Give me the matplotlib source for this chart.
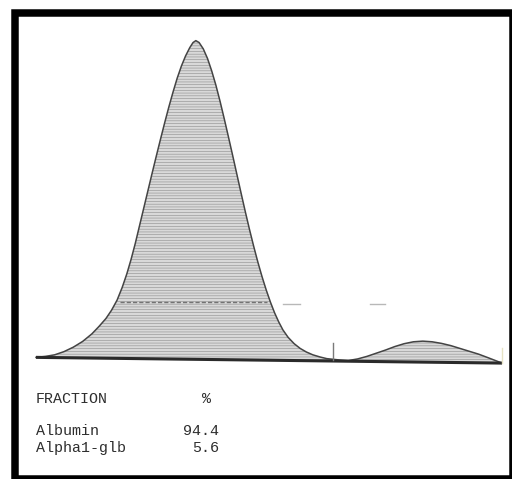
import numpy as np
import matplotlib.pyplot as plt
from matplotlib.patches import Rectangle

# densitometer trace (x: migration 0-100, y: density, peak = 100)
trace_x = [0, 2.0, 4.0, 6.0, 8.0, 10.0, 12.0, 13.5, 15.0, 16.2, 17.4, 18.5, 19.5,
           20.4, 21.3, 22.2, 23.1, 24.0, 24.9, 25.8, 26.7, 27.6, 28.5, 29.4, 30.3,
           31.2, 32.1, 33.0, 33.7, 34.3, 35.0, 35.9, 36.8, 37.7, 38.6, 39.5, 40.4,
           41.3, 42.2, 43.1, 44.0, 44.9, 45.8, 46.7, 47.6, 48.5, 49.4, 50.3, 51.2,
           52.1, 53.0, 54.1, 55.4, 56.7, 58.0, 59.4, 61.0, 62.4, 65.0, 67.0, 69.0,
           71.0, 73.0, 75.0, 77.0, 79.0, 81.0, 83.0, 85.0, 87.0, 89.0, 91.0, 93.0,
           95.0, 97.0, 100]
trace_y = [0.2, 0.5, 1.0, 2.0, 3.4, 5.2, 7.6, 9.9, 12.4, 15.0, 18.2, 22.2, 26.5,
           31.0, 36.0, 41.5, 47.0, 52.5, 58.0, 63.4, 68.7, 73.9, 78.9, 83.6, 88.0,
           91.8, 95.0, 97.6, 99.2, 99.8, 99.2, 97.2, 94.2, 90.3, 85.8, 80.7, 75.2,
           69.5, 63.7, 57.8, 51.9, 46.1, 40.5, 35.2, 30.2, 25.6, 21.4, 17.6, 14.2,
           11.3, 8.8, 6.5, 4.5, 3.0, 1.9, 1.0, 0.3, -0.2, -0.6, -0.8, -0.3,
           0.5, 1.5, 2.5, 3.6, 4.5, 5.1, 5.3, 5.1, 4.6, 3.9, 3.0, 2.1,
           1.2, 0.1, -1.6]
baseline_x = [0, 100]
baseline_y = [0.2, -1.6]
split_x = 63.7  # fraction divider mark

fractions = ["Albumin", "Alpha1-glb"]
percents = [94.4, 5.6]

W, H = 512, 479
fig = plt.figure(figsize=(W / 100, H / 100), dpi=100)
fig.patch.set_facecolor("white")

# axes placed over the trace area of the scan
ax = fig.add_axes([36 / W, (H - 358) / H, 466 / W, 318 / H])
ax.set_xlim(0, 100)
ax.set_ylim(0, 100)
ax.axis("off")

plt.rcParams["hatch.linewidth"] = 0.4
plt.rcParams["hatch.color"] = "#8c8c8c"

tx = np.array(trace_x)
ty = np.array(trace_y)
base = np.interp(tx, baseline_x, baseline_y)
ax.fill_between(tx, ty, base, where=ty >= base, facecolor="#d9d9d9",
                hatch="------", edgecolor="#8c8c8c", linewidth=0, clip_on=False)
ax.plot(tx, ty, color="#444444", lw=1.1, clip_on=False)
ax.plot(baseline_x, baseline_y, color="#2a2a2a", lw=2.2, clip_on=False,
        solid_capstyle="butt")

# dashed level line inside the albumin peak and scan artefacts
ax.plot([18.0, 49.6], [17.6, 17.6], color="#737373", lw=1.0, ls=(0, (3, 1.5)),
        clip_on=False)
ax.plot([53.0, 56.7], [16.9, 16.9], color="#b8b8b8", lw=1.0, clip_on=False)
ax.plot([71.7, 74.9], [16.9, 16.9], color="#b8b8b8", lw=1.0, clip_on=False)
ax.plot([split_x, split_x], [-0.6, 4.7], color="#7a7a7a", lw=1.0, clip_on=False)
ax.plot([100, 100], [-1.6, 3.2], color="#e6e2c4", lw=1.0, clip_on=False)

# report table
font = dict(family="Liberation Mono", size=10.8, color="#2e2e2e")
fig.text(36 / W, 1 - 403 / H, "FRACTION", ha="left", va="baseline", **font)
fig.text(207 / W, 1 - 403 / H, "%", ha="center", va="baseline", **font)
for i, (name, pct) in enumerate(zip(fractions, percents)):
    yb = 1 - (435 + 17 * i) / H
    fig.text(36 / W, yb, name, ha="left", va="baseline", **font)
    fig.text(219 / W, yb, f"{pct:.1f}", ha="right", va="baseline", **font)

# black frame of the printout
fig.patches.append(Rectangle((14.5 / W, 1 - 478.5 / H), 498 / W, 465.5 / H,
                             transform=fig.transFigure, fill=False,
                             edgecolor="black", lw=5.4, clip_on=False))

fig.savefig("out.png", dpi=100, facecolor="white")
